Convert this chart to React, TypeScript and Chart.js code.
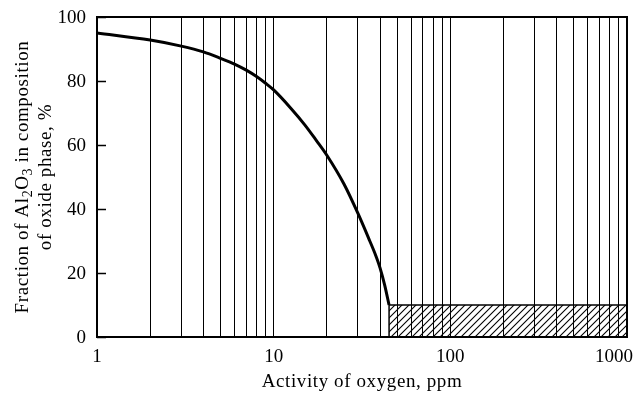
import React, { useEffect, useRef } from 'react';
import { Chart, registerables } from 'chart.js';

Chart.register(...registerables);

// Activity of oxygen (ppm) along the Al2O3 fraction curve
const oxygenActivity = [1, 2, 3, 4, 5, 6, 7, 8, 9, 10, 12.5, 15, 17.5, 20, 25, 30, 35, 37.5, 40, 42.5, 45];
// Fraction of Al2O3 in the oxide phase (%)
const al2o3Fraction = [95, 92.8, 90.9, 89.1, 87.1, 85.3, 83.4, 81.4, 79.3, 77.2, 71.5, 66.3, 61.3, 56.8, 47.8, 38.6, 30, 26, 21.6, 16.2, 10];

// Hatched zone outline (oxygen activity, fraction)
const zoneActivity = [45, 45, 1000, 1000];
const zoneFraction = [0, 10, 10, 0];

// Axes
const xMin = 1;
const xMax = 1000;
const xGridValues = [
  1, 2, 3, 4, 5, 6, 7, 8, 9,
  10, 20, 30, 40, 50, 60, 70, 80, 90,
  100, 200, 300, 400, 500, 600, 700, 800, 900,
  1000,
];
const xTickLabels = [1, 10, 100, 1000];
const yTickValues = [0, 20, 40, 60, 80, 100];

const xTitle = 'Activity of oxygen, ppm';
const yTitleLine1 = [
  { text: 'Fraction of Al', sub: false },
  { text: '2', sub: true },
  { text: 'O', sub: false },
  { text: '3', sub: true },
  { text: ' in composition', sub: false },
];
const yTitleLine2 = [{ text: 'of oxide phase, %', sub: false }];

const FONT = '"Liberation Serif", "Times New Roman", serif';
const FONT_SIZE = 19;
const TITLE_SPACING = '0.6px';

type Run = { text: string; sub: boolean };

function drawRuns(ctx: CanvasRenderingContext2D, runs: Run[], cx: number, baseY: number, size: number) {
  const subSize = Math.round(size * 0.72);
  const widths = runs.map((r) => {
    ctx.font = `${r.sub ? subSize : size}px ${FONT}`;
    return ctx.measureText(r.text).width;
  });
  const total = widths.reduce((a, b) => a + b, 0);
  let x = cx - total / 2;
  ctx.textAlign = 'left';
  ctx.textBaseline = 'alphabetic';
  runs.forEach((r, i) => {
    ctx.font = `${r.sub ? subSize : size}px ${FONT}`;
    ctx.fillText(r.text, x, baseY + (r.sub ? size * 0.22 : 0));
    x += widths[i];
  });
}

function makeHatch(ctx: CanvasRenderingContext2D): CanvasPattern | string {
  const tile = document.createElement('canvas');
  const s = 7;
  tile.width = s;
  tile.height = s;
  const g = tile.getContext('2d');
  if (!g) return 'rgba(0,0,0,0.2)';
  g.strokeStyle = '#000';
  g.lineWidth = 1.1;
  g.beginPath();
  g.moveTo(0, s);
  g.lineTo(s, 0);
  g.moveTo(-1, 1);
  g.lineTo(1, -1);
  g.moveTo(s - 1, s + 1);
  g.lineTo(s + 1, s - 1);
  g.stroke();
  return ctx.createPattern(tile, 'repeat') || '#ccc';
}

const decorations = {
  id: 'frameAndLabels',
  afterDraw(chart: Chart) {
    const { ctx, chartArea } = chart;
    const xs = chart.scales.x;
    const ys = chart.scales.y;
    const { left, right, top, bottom } = chartArea;
    const c = ctx as any;
    ctx.save();

    // plot frame
    ctx.strokeStyle = '#000';
    ctx.lineWidth = 2;
    ctx.strokeRect(left, top, right - left, bottom - top);

    // y ticks pointing into the plot
    ctx.lineWidth = 1.5;
    ctx.beginPath();
    yTickValues.forEach((v) => {
      const y = Math.round(ys.getPixelForValue(v)) + 0.5;
      ctx.moveTo(left, y);
      ctx.lineTo(left + 9, y);
    });
    ctx.stroke();

    ctx.fillStyle = '#000';
    ctx.font = `${FONT_SIZE}px ${FONT}`;
    c.letterSpacing = '0px';

    // y tick labels
    ctx.textAlign = 'right';
    ctx.textBaseline = 'middle';
    yTickValues.forEach((v) => {
      ctx.fillText(String(v), left - 11, ys.getPixelForValue(v) + 1);
    });

    // x tick labels
    ctx.textBaseline = 'middle';
    ctx.textAlign = 'center';
    const W = chart.width;
    xTickLabels.forEach((v) => {
      const label = String(v);
      const w = ctx.measureText(label).width;
      let x = xs.getPixelForValue(v);
      x = Math.min(x, W - 2 - w / 2);
      ctx.fillText(label, x, bottom + 20);
    });

    // x title
    c.letterSpacing = TITLE_SPACING;
    ctx.fillText(xTitle, (left + right) / 2, bottom + 45);

    // y title, two rotated lines
    ctx.translate(0, (top + bottom) / 2);
    ctx.rotate(-Math.PI / 2);
    drawRuns(ctx, yTitleLine1, 0, 28, FONT_SIZE);
    drawRuns(ctx, yTitleLine2, 0, 51, FONT_SIZE);
    c.letterSpacing = '0px';

    ctx.restore();
  },
};

export default function App() {
  const canvasRef = useRef<HTMLCanvasElement | null>(null);

  useEffect(() => {
    const canvas = canvasRef.current;
    if (!canvas) return;
    const ctx = canvas.getContext('2d');
    if (!ctx) return;
    const hatch = makeHatch(ctx);

    const chart = new Chart(ctx, {
      type: 'line',
      data: {
        datasets: [
          {
            label: 'Al2O3',
            data: oxygenActivity.map((x, i) => ({ x, y: al2o3Fraction[i] })),
            borderColor: '#000',
            borderWidth: 3,
            pointRadius: 0,
            cubicInterpolationMode: 'monotone',
            fill: false,
          },
          {
            label: 'zone',
            data: zoneActivity.map((x, i) => ({ x, y: zoneFraction[i] })),
            borderColor: '#000',
            borderWidth: 1.5,
            pointRadius: 0,
            tension: 0,
            fill: 'origin',
            backgroundColor: hatch as any,
          },
        ],
      },
      options: {
        animation: false,
        responsive: false,
        maintainAspectRatio: false,
        layout: { padding: { left: 97, top: 17, right: 8, bottom: 56 } },
        plugins: {
          legend: { display: false },
          tooltip: { enabled: false },
          title: { display: false },
        },
        scales: {
          x: {
            type: 'logarithmic',
            min: xMin,
            max: xMax,
            afterBuildTicks: (scale: any) => {
              scale.ticks = xGridValues.map((value) => ({ value }));
            },
            ticks: { display: false },
            grid: { color: '#000', lineWidth: 1, drawTicks: false },
            border: { display: false },
          },
          y: {
            type: 'linear',
            min: 0,
            max: 100,
            ticks: { display: false },
            grid: { display: false, drawTicks: false },
            border: { display: false },
          },
        },
      },
      plugins: [decorations],
    });

    return () => chart.destroy();
  }, []);

  return (
    <div style={{ position: 'fixed', left: 0, top: 0, width: 635, height: 393, background: '#fff' }}>
      <canvas ref={canvasRef} width={635} height={393} style={{ display: 'block', width: 635, height: 393 }} />
    </div>
  );
}
